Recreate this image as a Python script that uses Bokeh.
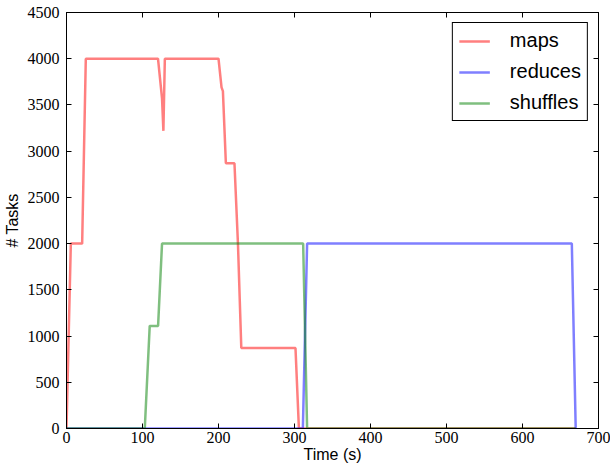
from bokeh.plotting import figure
from bokeh.models import LinearAxis, FixedTicker, Range1d, Legend, LegendItem
from bokeh.embed import file_html
from bokeh.resources import INLINE

# Data (time in seconds, number of tasks)
maps_t = [0, 5.7, 20.6, 25.4, 120.4, 125.7, 127.5, 129.4, 200, 204, 205.8, 209.7, 221, 225.6, 230, 301.3, 305.8, 670]
maps_v = [0, 2000, 2000, 4000, 4000, 3570, 3220, 4000, 4000, 3690, 3650, 2870, 2870, 2000, 870, 870, 0, 0]

reduces_t = [0, 311, 316.6, 664.9, 670]
reduces_v = [0, 0, 2000, 2000, 0]

shuffles_t = [0, 103, 109.5, 120.5, 125.7, 311.4, 316.6, 670]
shuffles_v = [0, 0, 1110, 1110, 2000, 2000, 0, 0]

x_ticks = [0, 100, 200, 300, 400, 500, 600, 700]
y_ticks = [0, 500, 1000, 1500, 2000, 2500, 3000, 3500, 4000, 4500]

TICK_FONT = "Liberation Serif"
LABEL_FONT = "Liberation Sans"

p = figure(width=610, height=469,
           x_range=Range1d(0, 700), y_range=Range1d(0, 4500),
           output_backend="svg", toolbar_location=None,
           min_border_left=65, min_border_right=12,
           min_border_top=12, min_border_bottom=41)

p.grid.visible = False
p.outline_line_color = "black"
p.outline_line_width = 1

# main axes
p.xaxis.ticker = FixedTicker(ticks=x_ticks)
p.yaxis.ticker = FixedTicker(ticks=y_ticks)
p.axis.major_tick_in = 5
p.axis.major_tick_out = 0
p.axis.minor_tick_line_color = None
p.axis.axis_line_color = "black"
p.axis.major_tick_line_color = "black"
p.axis.major_label_text_font = TICK_FONT
p.axis.major_label_text_font_size = "16px"
p.axis.major_label_text_color = "black"
p.xaxis.major_label_standoff = 3
p.yaxis.major_label_standoff = 7

p.xaxis.axis_label = "Time (s)"
p.yaxis.axis_label = "# Tasks"
p.axis.axis_label_text_font = LABEL_FONT
p.axis.axis_label_text_font_size = "16px"
p.axis.axis_label_text_font_style = "normal"
p.axis.axis_label_text_color = "black"
p.xaxis.axis_label_standoff = 0
p.yaxis.axis_label_standoff = 4

# tick-only axes at top and right
top = LinearAxis(ticker=FixedTicker(ticks=x_ticks), major_tick_in=5, major_tick_out=0,
                 minor_tick_line_color=None, major_label_text_font_size="1px",
                 major_label_text_alpha=0, major_label_standoff=0)
p.add_layout(top, "above")
right = LinearAxis(ticker=FixedTicker(ticks=y_ticks), major_tick_in=5, major_tick_out=0,
                   minor_tick_line_color=None, major_label_text_font_size="1px",
                   major_label_text_alpha=0, major_label_standoff=0)
p.add_layout(right, "right")

r_maps = p.line(maps_t, maps_v, line_color="red", line_alpha=0.5, line_width=2.5)
r_red = p.line(reduces_t, reduces_v, line_color="blue", line_alpha=0.5, line_width=2.5)
r_sh = p.line(shuffles_t, shuffles_v, line_color="green", line_alpha=0.5, line_width=2.5)

legend = Legend(items=[LegendItem(label="maps", renderers=[r_maps]),
                       LegendItem(label="reduces", renderers=[r_red]),
                       LegendItem(label="shuffles", renderers=[r_sh])],
                location="top_right")
legend.label_text_font = LABEL_FONT
legend.label_text_font_size = "20px"
legend.label_text_color = "black"
legend.border_line_color = "black"
legend.border_line_width = 1
legend.border_line_alpha = 1
legend.background_fill_alpha = 1
legend.padding = 6
legend.spacing = 8
legend.glyph_width = 31
legend.glyph_height = 20
legend.label_height = 20
legend.label_standoff = 20
legend.margin = 10
legend.label_text_baseline = "middle"
p.add_layout(legend)

open("out.html", "w").write(file_html(p, INLINE))
